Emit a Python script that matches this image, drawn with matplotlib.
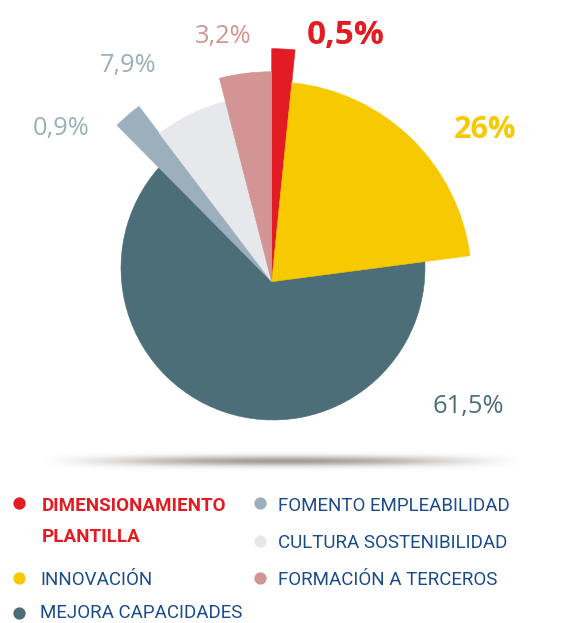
import numpy as np
import matplotlib
matplotlib.use("Agg")
import matplotlib.pyplot as plt
from matplotlib.patches import Wedge

# ---------------- data ----------------
categories = ["DIMENSIONAMIENTO\nPLANTILLA", "INNOVACIÓN", "MEJORA CAPACIDADES",
              "FOMENTO EMPLEABILIDAD", "CULTURA SOSTENIBILIDAD", "FORMACIÓN A TERCEROS"]
pct_labels = ["0,5%", "26%", "61,5%", "0,9%", "7,9%", "3,2%"]
# slice sizes as drawn in the picture (share of the full circle, %)
slice_share = [1.6, 21.3, 64.6, 2.1, 6.3, 4.0]

# ---------------- style ----------------
W, H = 583, 623
colors = ["#E31B23", "#F6C900", "#4C6E79", "#9BAFBC", "#E7E8EC", "#D29593"]
radius_px = [233, 200, 152, 220, 186, 210]
center_shift = [(0, 0), (0, 0), (1.3, 13.7), (0, 0), (0, 0), (0, 0)]
apex = (271.7, 281.7)           # image coords (y down)

label_color = ["#E31B23", "#F6C900", "#4C6E79", "#9BAFBC", "#9BAFBC", "#D29593"]
label_bold = [True, True, False, False, False, False]
label_size = [24, 22, 18.4, 18.4, 18.4, 18.4]
label_pos = [(345.8, 44.3), (485.5, 138.3), (468.3, 413.3),
             (61.3, 135.0), (128.3, 71.7), (223.3, 42.7)]   # (x center, baseline)

legend_text_color = "#1A4C8C"
legend_pos = [(19, 503.3, 42, 510.7), (19, 578.3, 40, 585.0), (19, 612.5, 40, 618.0),
              (260, 503.3, 278, 510.7), (260, 541.0, 278, 548.3), (260, 578.3, 278, 585.0)]
line_gap = 31.0
FONT = ["Open Sans", "DejaVu Sans"]
LEG_FONT = ["Liberation Sans Narrow", "Roboto", "DejaVu Sans"]
ref_width_px = 234.0   # width of "FOMENTO EMPLEABILIDAD" in the reference

def Y(y):
    return H - y

fig = plt.figure(figsize=(W / 100, H / 100), dpi=100)
ax = fig.add_axes([0, 0, 1, 1])
ax.set_xlim(0, W)
ax.set_ylim(0, H)
ax.axis("off")

# ---------------- shadow ----------------
sx = np.linspace(-1, 1, 600)
sy = np.linspace(-1, 1, 60)
XX, YY = np.meshgrid(sx, sy)
alpha = 0.78 * np.clip(1 - XX**2, 0, None) ** 1.6 * np.exp(-(YY / 0.38) ** 2)
rgba = np.zeros(XX.shape + (4,))
rgba[..., 0] = 0.55
rgba[..., 1] = 0.50
rgba[..., 2] = 0.46
rgba[..., 3] = alpha
ax.imshow(rgba, extent=(38, 528, Y(474), Y(448)), aspect="auto", zorder=1,
          interpolation="bilinear")

# ---------------- pie ----------------
total = float(sum(slice_share))
start = 90.0
order = [2, 0, 1, 3, 4, 5]
angles = []
for v in slice_share:
    span = 360.0 * v / total
    angles.append((start - span, start))
    start -= span

for i in order:
    t1, t2 = angles[i]
    cx = apex[0] + center_shift[i][0]
    cy = Y(apex[1]) + center_shift[i][1]
    w = Wedge((cx, cy), radius_px[i], t1, t2, facecolor=colors[i],
              edgecolor=colors[i], linewidth=0.4, zorder=2 + (0 if i == 2 else 1))
    ax.add_patch(w)

# ---------------- value labels ----------------
for i, txt in enumerate(pct_labels):
    x, yb = label_pos[i]
    ax.text(x, Y(yb), txt, ha="center", va="baseline", color=label_color[i],
            fontsize=label_size[i], fontweight="bold" if label_bold[i] else "normal",
            family=FONT, zorder=5)

# ---------------- legend ----------------
# fit legend font size to the reference text width
renderer = fig.canvas.get_renderer()
probe = ax.text(0, 0, categories[3], fontsize=15, family=LEG_FONT)
pw = probe.get_window_extent(renderer).width
probe.remove()
leg_size = 15 * ref_width_px / pw

for i, cat in enumerate(categories):
    dx, dy, tx, ty = legend_pos[i]
    ax.scatter([dx], [Y(dy)], s=78, color=colors[i], zorder=5, linewidths=0)
    bold = i == 0
    col = colors[0] if i == 0 else legend_text_color
    for k, line in enumerate(cat.split("\n")):
        ax.text(tx, Y(ty + k * line_gap), line, ha="left", va="baseline",
                color=col, fontsize=leg_size, fontweight="bold" if bold else "normal",
                family=LEG_FONT, zorder=5)

fig.savefig("out.png", dpi=100)
